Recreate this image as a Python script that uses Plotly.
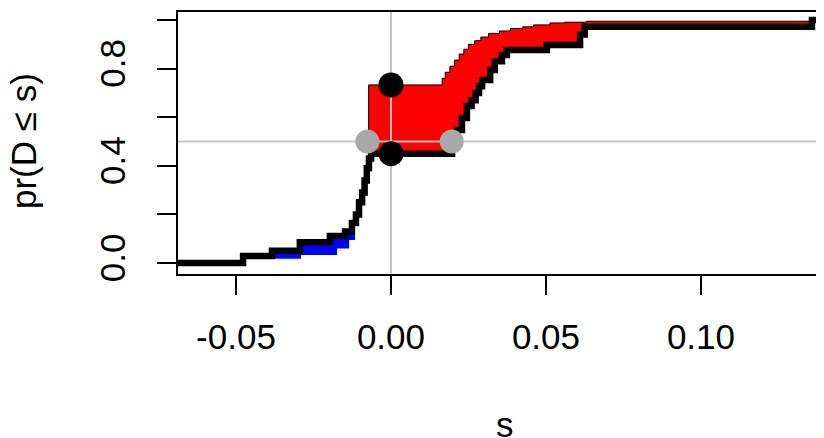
import numpy as np
import plotly.graph_objects as go

# Step CDF with the red/blue fill (upper curve on the right side)
r_x = [-0.0687, -0.0477, -0.029, -0.0174, -0.0135, -0.0116, -0.0103, -0.0093, -0.0085, -0.0078,
       -0.0072, 0.0165, 0.0175, 0.019, 0.0205, 0.022, 0.0235, 0.025, 0.027, 0.029, 0.0315,
       0.035, 0.0385, 0.0425, 0.046, 0.0513, 0.056, 0.063, 0.1358]
r_y = [0.0, 0.018, 0.033, 0.06, 0.095, 0.19, 0.25, 0.29, 0.34, 0.39,
       0.733, 0.76, 0.785, 0.81, 0.835, 0.86, 0.88, 0.90, 0.915, 0.93, 0.945,
       0.955, 0.965, 0.972, 0.98, 0.988, 0.991, 0.995, 1.0]

# Step CDF drawn as the thick black line
k_x = [-0.0687, -0.0477, -0.0384, -0.0294, -0.0197, -0.0148, -0.0126, -0.0113, -0.0103, -0.0093,
       -0.0085, -0.0078, -0.0071, -0.0064, 0.0197, 0.0213, 0.0229, 0.0245, 0.026, 0.0273,
       0.0284, 0.0294, 0.032, 0.0335, 0.0358, 0.0374, 0.0503, 0.061, 0.0625, 0.1358]
k_y = [0.0, 0.029, 0.051, 0.086, 0.111, 0.13, 0.165, 0.2, 0.25, 0.29,
       0.34, 0.39, 0.43, 0.45, 0.5, 0.547, 0.597, 0.646, 0.67, 0.70,
       0.728, 0.753, 0.794, 0.83, 0.856, 0.877, 0.897, 0.94, 0.972, 1.0]

x_end = 0.15

# Reference values
ref_x = 0.0
ref_y = 0.5
black_pts_x = [0.0, 0.0]
black_pts_y = [0.733, 0.45]
gray_pts_x = [-0.0076, 0.0196]
gray_pts_y = [0.5, 0.5]

x_tick_vals = [-0.05, 0.0, 0.05, 0.10]
x_tick_text = ["-0.05", "0.00", "0.05", "0.10"]
y_tick_vals = [0.0, 0.2, 0.4, 0.6, 0.8, 1.0]
y_tick_text = ["0.0", "", "0.4", "", "0.8", ""]


def step_eval(xs, ys, grid):
    idx = np.searchsorted(np.array(xs), grid, side="right") - 1
    idx = np.clip(idx, 0, len(ys) - 1)
    return np.array(ys)[idx]


grid = np.array(sorted(set(r_x + k_x)) + [x_end])
R = step_eval(r_x, r_y, grid)
K = step_eval(k_x, k_y, grid)
M = np.maximum(R, K)

fig = go.Figure()
# red fill: between K and max(R,K)
fig.add_trace(go.Scatter(x=grid, y=K, mode="lines", line=dict(width=0, shape="hv"),
                         hoverinfo="skip", showlegend=False))
fig.add_trace(go.Scatter(x=grid, y=M, mode="lines", fill="tonexty", fillcolor="#ff0000",
                         line=dict(width=1, color="black", shape="hv"),
                         hoverinfo="skip", showlegend=False))
# blue fill: between R and max(R,K)
fig.add_trace(go.Scatter(x=grid, y=R, mode="lines", line=dict(width=0, shape="hv"),
                         hoverinfo="skip", showlegend=False))
fig.add_trace(go.Scatter(x=grid, y=M, mode="lines", fill="tonexty", fillcolor="#0000ff",
                         line=dict(width=0, color="#0000ff", shape="hv"),
                         hoverinfo="skip", showlegend=False))
# thick black CDF
fig.add_trace(go.Scatter(x=grid, y=K, mode="lines", line=dict(width=6.5, color="black", shape="hv"),
                         hoverinfo="skip", showlegend=False))
# gray reference lines
fig.add_trace(go.Scatter(x=[ref_x, ref_x], y=[-1, 2], mode="lines",
                         line=dict(width=2, color="#c4c4c4"), showlegend=False))
fig.add_trace(go.Scatter(x=[-1, 1], y=[ref_y, ref_y], mode="lines",
                         line=dict(width=2, color="#c4c4c4"), showlegend=False))
# points
fig.add_trace(go.Scatter(x=black_pts_x, y=black_pts_y, mode="markers",
                         marker=dict(size=25, color="black"), showlegend=False))
fig.add_trace(go.Scatter(x=gray_pts_x, y=gray_pts_y, mode="markers",
                         marker=dict(size=24, color="#a9a9a9"), showlegend=False))

font = dict(family="Liberation Sans, Arial, sans-serif", size=35, color="black")

PW = 654  # plot-area width in px (extends past the right edge of the window, as in the reference)

# page body adds an 8px offset, so the figure is sized/margined to compensate
fig.update_layout(
    width=824, height=430,
    margin=dict(l=170, r=0, t=4, b=164),
    plot_bgcolor="white", paper_bgcolor="white",
    font=font,
    xaxis=dict(range=[-0.0687, -0.0687 + PW / 3100], showgrid=False, zeroline=False,
               showline=True, mirror=True, linecolor="black", linewidth=2,
               ticks="outside", ticklen=19, tickwidth=2, tickcolor="black",
               tickvals=x_tick_vals, ticktext=x_tick_text, ticklabelstandoff=12),
    yaxis=dict(range=[-0.045, 1.033], showgrid=False, zeroline=False,
               showline=True, mirror=False, linecolor="black", linewidth=2,
               ticks="outside", ticklen=19, tickwidth=2, tickcolor="black",
               tickvals=y_tick_vals, ticktext=y_tick_text, tickangle=-90,
               ticklabelstandoff=18),
    annotations=[
        dict(text="s", xref="paper", yref="paper", x=(505 - 178) / PW, y=(274 - 424) / 262,
             xanchor="center", yanchor="middle", showarrow=False, font=font),
        dict(text="pr(D ≤ s)", xref="paper", yref="paper", x=(23 - 178) / PW, y=(274 - 141) / 262,
             xanchor="center", yanchor="middle", textangle=-90, showarrow=False, font=font),
    ],
)

fig.write_html("out.html")
